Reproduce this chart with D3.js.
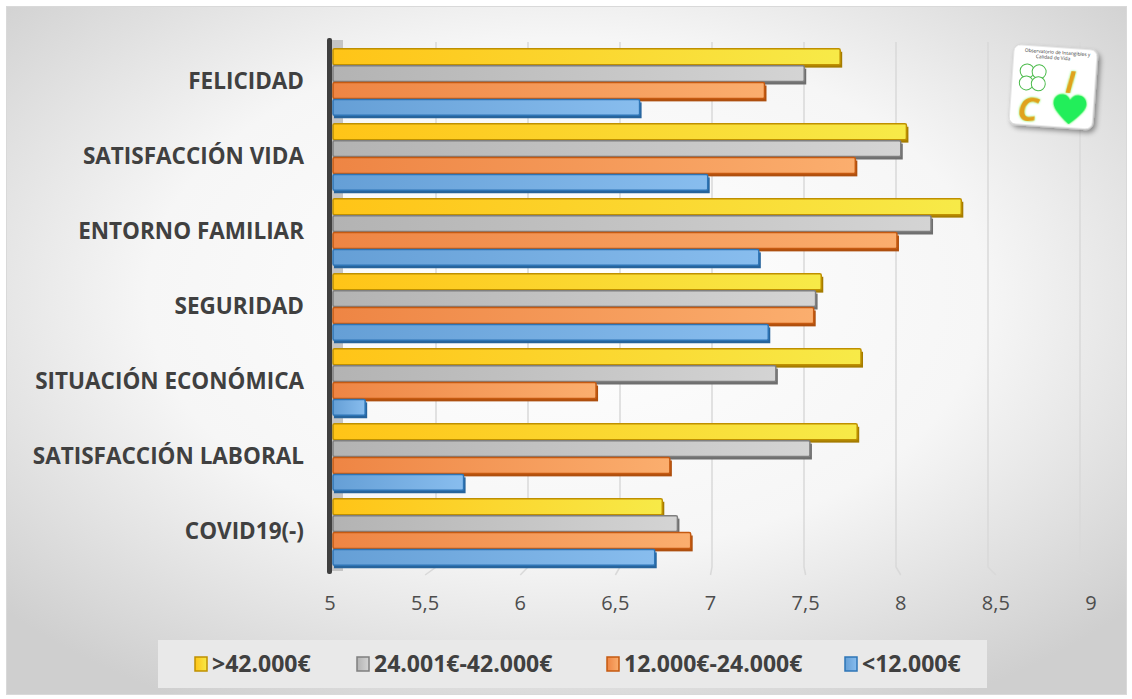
<!DOCTYPE html>
<html>
<head>
<meta charset="utf-8">
<script src="https://cdn.jsdelivr.net/npm/d3@7"></script>
<style>
  html, body { margin: 0; padding: 0; background: #fff; }
  svg { display: block; }
</style>
</head>
<body>
<div id="chart"></div>
<script>
// data
const categories = [
  "FELICIDAD",
  "SATISFACCIÓN VIDA",
  "ENTORNO FAMILIAR",
  "SEGURIDAD",
  "SITUACIÓN ECONÓMICA",
  "SATISFACCIÓN LABORAL",
  "COVID19(-)",
];
const seriesNames = [">42.000€", "24.001€-42.000€", "12.000€-24.000€", "<12.000€"];
const over42k = [7.68, 8.03, 8.32, 7.58, 7.79, 7.77, 6.74];
const from24to42k = [7.49, 8.0, 8.16, 7.55, 7.34, 7.52, 6.82];
const from12to24k = [7.28, 7.76, 7.98, 7.54, 6.39, 6.78, 6.89];
const under12k = [6.62, 6.98, 7.25, 7.3, 5.17, 5.69, 6.7];
const seriesValues = [over42k, from24to42k, from12to24k, under12k];
const ticks = [5, 5.5, 6, 6.5, 7, 7.5, 8, 8.5, 9];

const palette = [
  { dark: "#BF9000", side: "#A57C00", from: "#FFC417", to: "#F7EA48" },
  { dark: "#7F7F7F", side: "#6E6E6E", from: "#B3B3B3", to: "#D4D4D4" },
  { dark: "#C55A11", side: "#AE4F0E", from: "#EE8544", to: "#FBAE6E" },
  { dark: "#2E75B6", side: "#27649C", from: "#659FD6", to: "#88BDEE" },
];

const width = 1132, height = 699;
const plot = { top: 42, bottom: 567, left: 333, right: 1090 };

const svg = d3.select("#chart").append("svg")
  .attr("width", width)
  .attr("height", height)
  .style("font-family", "'Open Sans', Lato, sans-serif");

const defs = svg.append("defs");
const bg = defs.append("radialGradient")
  .attr("id", "bg").attr("cx", "50%").attr("cy", "42%").attr("r", "68%");
bg.append("stop").attr("offset", "0%").attr("stop-color", "#ffffff");
bg.append("stop").attr("offset", "55%").attr("stop-color", "#f6f6f6");
bg.append("stop").attr("offset", "100%").attr("stop-color", "#cfcfcf");

palette.forEach((p, i) => {
  const g = defs.append("linearGradient").attr("id", "bar" + i);
  g.append("stop").attr("offset", "0%").attr("stop-color", p.from);
  g.append("stop").attr("offset", "100%").attr("stop-color", p.to);
});

const shadow = defs.append("filter").attr("id", "shadow")
  .attr("x", "-20%").attr("y", "-20%").attr("width", "150%").attr("height", "150%");
shadow.append("feDropShadow").attr("dx", 3).attr("dy", 3)
  .attr("stdDeviation", 2.5).attr("flood-color", "#000").attr("flood-opacity", 0.4);

const glow = defs.append("filter").attr("id", "glow")
  .attr("x", "-30%").attr("y", "-30%").attr("width", "160%").attr("height", "160%");
glow.append("feDropShadow").attr("dx", 0).attr("dy", 0)
  .attr("stdDeviation", 1.2).attr("flood-color", "#5dff5d").attr("flood-opacity", 0.9);

// chart frame
svg.append("rect")
  .attr("x", 6.5).attr("y", 6.5)
  .attr("width", 1120).attr("height", 688)
  .attr("fill", "url(#bg)")
  .attr("stroke", "#d9d9d9");

// scales
const x = d3.scaleLinear().domain([5, 9]).range([plot.left, plot.right]);
const xBack = x.copy().range([344, 1080]);
const xFront = x.copy().range([330, 1091]);
const y = d3.scaleBand().domain(categories).range([plot.top, plot.bottom])
  .paddingInner(0.1).paddingOuter(0.05);
const ySeries = d3.scaleBand().domain(d3.range(seriesNames.length))
  .range([0, y.bandwidth()]);

// gridlines (back wall + slanted floor ends)
svg.append("g").selectAll("path")
  .data(ticks.slice(1))
  .join("path")
  .attr("d", (d) => `M${xBack(d)},${plot.top}V${plot.bottom}L${xFront(d)},${plot.bottom + 8}`)
  .attr("fill", "none")
  .attr("stroke", "#d9d9d9")
  .attr("stroke-width", 1.5);

// left wall
svg.append("rect")
  .attr("x", 331).attr("y", plot.top - 2)
  .attr("width", 12).attr("height", plot.bottom - plot.top + 6)
  .attr("fill", "#c4c4c4");
svg.append("rect")
  .attr("x", 327).attr("y", plot.top - 4)
  .attr("width", 5).attr("height", plot.bottom - plot.top + 11)
  .attr("rx", 2)
  .attr("fill", "#3f3f3f");

// bars
const barData = [];
categories.forEach((c, ci) => {
  seriesValues.forEach((vals, si) => {
    barData.push({ cat: c, s: si, v: vals[ci] });
  });
});
const barH = ySeries.bandwidth() - 1;
const bars = svg.append("g").selectAll("g")
  .data(barData)
  .join("g")
  .attr("transform", (d) => `translate(0,${y(d.cat) + ySeries(d.s) + 3})`);

bars.append("rect")
  .attr("x", plot.left + 1)
  .attr("y", 3)
  .attr("width", (d) => x(d.v) - plot.left + 1)
  .attr("height", barH)
  .attr("fill", (d) => palette[d.s].side);

bars.append("rect")
  .attr("x", plot.left)
  .attr("y", 0)
  .attr("width", (d) => x(d.v) - plot.left)
  .attr("height", barH)
  .attr("rx", 1.5)
  .attr("fill", (d) => `url(#bar${d.s})`)
  .attr("stroke", (d) => palette[d.s].dark)
  .attr("stroke-width", 1.5);

// category labels
svg.append("g").selectAll("text")
  .data(categories)
  .join("text")
  .attr("x", 304)
  .attr("y", (d) => y(d) + y.bandwidth() / 2 + 3)
  .attr("text-anchor", "end")
  .attr("dominant-baseline", "middle")
  .attr("font-size", 22.5)
  .attr("font-weight", "bold")
  .attr("fill", "#404040")
  .text((d) => d);

// value axis labels
svg.append("g").selectAll("text")
  .data(ticks)
  .join("text")
  .attr("x", (d) => xFront(d))
  .attr("y", 610)
  .attr("text-anchor", "middle")
  .attr("font-size", 20)
  .attr("fill", "#4d4d4d")
  .text((d) => String(d).replace(".", ","));

// legend
const legend = svg.append("g");
legend.append("rect")
  .attr("x", 158).attr("y", 640)
  .attr("width", 829).attr("height", 48)
  .attr("fill", "#e9e9e9");
const legendX = [195, 357, 607, 845];
const items = legend.selectAll("g.item")
  .data(seriesNames)
  .join("g")
  .attr("class", "item")
  .attr("transform", (d, i) => `translate(${legendX[i]},657)`);
items.append("rect")
  .attr("width", 12).attr("height", 14)
  .attr("fill", (d, i) => `url(#bar${i})`)
  .attr("stroke", (d, i) => palette[i].dark)
  .attr("stroke-width", 1.5);
items.append("text")
  .attr("x", 17).attr("y", 15)
  .attr("font-size", 23)
  .attr("font-weight", "bold")
  .attr("fill", "#404040")
  .text((d) => d);

// logo
const logo = svg.append("g").attr("transform", "translate(1014,44) rotate(4)");
logo.append("rect")
  .attr("width", 84).attr("height", 80).attr("rx", 7)
  .attr("fill", "#fff")
  .attr("stroke", "#d0d0d0")
  .attr("filter", "url(#shadow)");
logo.append("text").attr("x", 44).attr("y", 7)
  .attr("text-anchor", "middle").attr("font-size", 4.8).attr("fill", "#333")
  .text("Observatorio de Intangibles y");
logo.append("text").attr("x", 40).attr("y", 12.5)
  .attr("text-anchor", "middle").attr("font-size", 4.8).attr("fill", "#333")
  .text("Calidad de Vida");
const clover = logo.append("g").attr("transform", "translate(21,32)")
  .attr("fill", "#fff").attr("stroke", "#4cbb4c").attr("stroke-width", 1);
[[-6, -6], [6, -6], [-6, 6], [6, 6]].forEach(([cx, cy]) => {
  clover.append("circle").attr("cx", cx).attr("cy", cy).attr("r", 7);
});
logo.append("text").attr("x", 54).attr("y", 45)
  .attr("font-size", 30).attr("font-weight", "bold").attr("font-style", "italic")
  .attr("fill", "#e0a21a").attr("filter", "url(#glow)")
  .text("I");
logo.append("text").attr("x", 8).attr("y", 76)
  .attr("font-size", 34).attr("font-weight", "bold").attr("font-style", "italic")
  .attr("fill", "#e0a21a").attr("filter", "url(#glow)")
  .text("C");
logo.append("path")
  .attr("d", "M0,13 C-12,3 -15,-2 -15,-6 C-15,-11 -11,-14 -7,-14 C-3,-14 -1,-11 0,-9 C1,-11 3,-14 7,-14 C11,-14 15,-11 15,-6 C15,-2 12,3 0,13 Z")
  .attr("transform", "translate(60,62) scale(1.1)")
  .attr("fill", "#22ee5a")
  .attr("filter", "url(#glow)");
</script>
</body>
</html>
